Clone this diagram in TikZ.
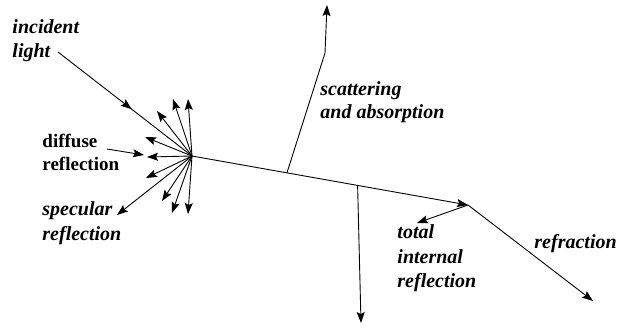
\documentclass[tikz,border=0pt]{standalone}
\usepackage{fontspec}
\setmainfont{Liberation Serif}
\usetikzlibrary{arrows.meta,calc,decorations.markings}
\begin{document}
\begin{tikzpicture}[x=1pt,y=-1pt, line width=0.9pt,
  >={Stealth[length=11pt,width=8pt,inset=2pt]},
  lbl/.style={anchor=base west, inner sep=0pt, font=\fontsize{20}{24}\selectfont\bfseries\itshape},
  lblu/.style={anchor=base west, inner sep=0pt, font=\fontsize{19}{23}\selectfont\bfseries},
  ray/.style={->},
  midarrow/.style={postaction=decorate, decoration={markings, mark=at position #1 with {\arrow{>}}}}]
\useasboundingbox (0,0) rectangle (628,330);

% labels
\node[lbl] (inc1) at (12,33) {incident};
\node[lbl] (inc2) at (12,57) {light};
\node[lblu] (dif1) at (42,147) {diffuse};
\node[lblu] (dif2) at (42,170) {reflection};
\node[lbl] (spe1) at (42,215) {specular};
\node[lbl] (spe2) at (42,240) {reflection};
\node[lbl] (sca1) at (320,95) {scattering};
\node[lbl] (sca2) at (320,118) {and absorption};
\node[lbl] (tir1) at (397,238) {total};
\node[lbl] (tir2) at (397,263) {internal};
\node[lbl] (tir3) at (397,287) {reflection};
\node[lbl] (ref1) at (534,248) {refraction};

% key points
\coordinate (I0) at (58,52);
\coordinate (C) at (192,156);
\coordinate (R) at (468,205);
\coordinate (S) at ($(C)!0.344!(R)$);
\coordinate (D) at ($(C)!0.6!(R)$);
\coordinate (Sb) at (325,53);
\coordinate (St) at (327,5);
\coordinate (Db) at (361,323);
\coordinate (T) at (417,223);
\coordinate (F) at (593,301);
\coordinate (P0) at (107,149);
\coordinate (P1) at (144,155);

% fan tips
\coordinate (f1) at (173,99);
\coordinate (f2) at (188,99);
\coordinate (f3) at (157,111);
\coordinate (f4) at (145,137);
\coordinate (f5) at (147,157);
\coordinate (f6) at (146,178);
\coordinate (f7) at (117,215);
\coordinate (f8) at (162,201);
\coordinate (f9) at (172,213);
\coordinate (f10) at (188,214);

% incident light
\draw[midarrow=0.55] (I0) -- (C);
% diffuse pointer
\draw[ray] (P0) -- (P1);
% fan
\foreach \t in {f1,f2,f3,f4,f5,f6,f7,f8,f9,f10} \draw[ray] (C) -- (\t);
% main line
\draw[ray] (C) -- (R);
\draw[ray] (S) -- (Sb) -- (St);
\draw[ray] (D) -- (Db);
\draw[ray] (R) -- (T);
\draw[ray] (R) -- (F);
\end{tikzpicture}
\end{document}
